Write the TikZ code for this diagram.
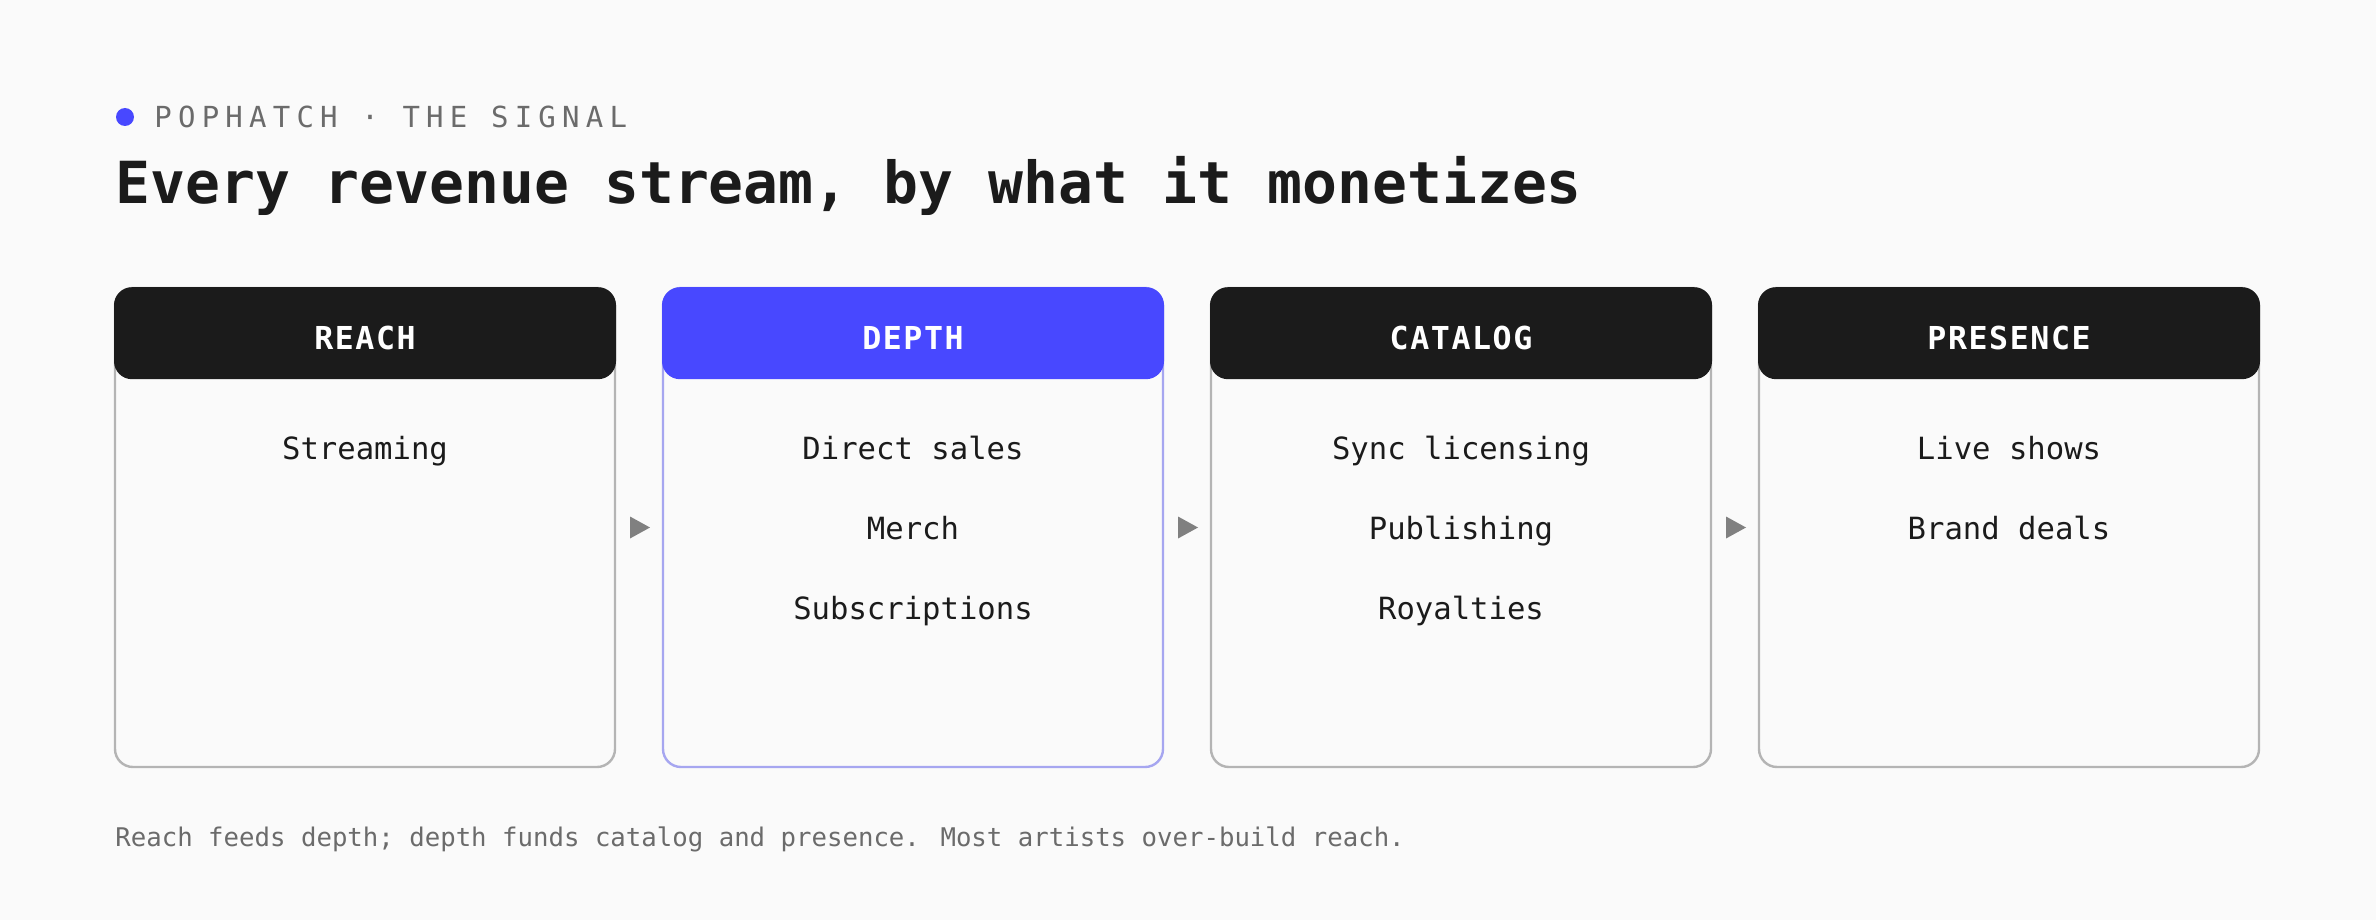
\documentclass[tikz,border=0pt]{standalone}
\usepackage{fontspec}
\setmainfont{DejaVu Sans Mono}
\usetikzlibrary{calc}

\definecolor{paper}{HTML}{FAFAFA}
\definecolor{ink}{HTML}{1B1B1B}
\definecolor{accent}{HTML}{4848FF}
\definecolor{accentline}{HTML}{A6A6F0}
\definecolor{cardline}{HTML}{B4B4B4}
\definecolor{muted}{HTML}{6B6B6B}
\definecolor{tipgray}{HTML}{808080}

\tikzset{
    card/.style={draw=cardline, line width=1.2pt, rounded corners=9pt,
        fill=paper, minimum width=250pt, minimum height=239.5pt, inner sep=0pt},
    head/.style={fill=ink, rounded corners=9pt, anchor=north,
        minimum width=251pt, minimum height=46pt, inner sep=0pt, text=white,
        text height=15.8pt, text depth=0pt,
        font=\bfseries\fontsize{15.8}{18}\selectfont\addfontfeatures{LetterSpace=5}},
    item/.style={anchor=base, inner sep=0pt, text=ink,
        font=\fontsize{15.3}{18}\selectfont},
    tipmark/.style={fill=tipgray}
}

\begin{document}
\begin{tikzpicture}[x=0.5pt, y=-0.5pt]

    \fill[paper] (0,0) rectangle (2376,920);
    \useasboundingbox (0,0) rectangle (2376,920);

    % heading
    \node[circle, fill=accent, minimum size=9pt, inner sep=0pt] (dot) at (125,117){};
    \node[anchor=base west, inner sep=0pt, text=muted,
        font=\fontsize{14.5}{16}\selectfont\addfontfeatures{LetterSpace=21.5}
    ] (kicker) at (154,127){POPHATCH · THE SIGNAL};
    \node[anchor=base west, inner sep=0pt, text=ink,
        font=\bfseries\fontsize{29}{34}\selectfont
    ] (title) at (115,203){Every revenue stream, by what it monetizes};

    % cards
    \node[card] (reach) at (365,527.5){};
    \node[card, draw=accentline] (depth) at (913,527.5){};
    \node[card] (catalog) at (1461,527.5){};
    \node[card] (presence) at (2009,527.5){};

    \node[head] (reachhead) at (reach.north){REACH};
    \node[head, fill=accent] (depthhead) at (depth.north){DEPTH};
    \node[head] (cataloghead) at (catalog.north){CATALOG};
    \node[head] (presencehead) at (presence.north){PRESENCE};

    \node[item] (streaming) at (365,459){Streaming};

    \node[item] (direct) at (913,459){Direct sales};
    \node[item] (merch) at (913,539){Merch};
    \node[item] (subs) at (913,619){Subscriptions};

    \node[item] (sync) at (1461,459){Sync licensing};
    \node[item] (publishing) at (1461,539){Publishing};
    \node[item] (royalties) at (1461,619){Royalties};

    \node[item] (live) at (2009,459){Live shows};
    \node[item] (brand) at (2009,539){Brand deals};

    % arrows between cards
    \fill[tipmark] ($(reach.east)!0.5!(depth.west)$) ++(-9,-11) -- ++(20,11) -- ++(-20,11) -- cycle;
    \fill[tipmark] ($(depth.east)!0.5!(catalog.west)$) ++(-9,-11) -- ++(20,11) -- ++(-20,11) -- cycle;
    \fill[tipmark] ($(catalog.east)!0.5!(presence.west)$) ++(-9,-11) -- ++(20,11) -- ++(-20,11) -- cycle;

    % footnote
    \node[anchor=base west, inner sep=0pt, text=muted,
        font=\fontsize{12.85}{15}\selectfont
    ] (note) at (115,846){Reach feeds depth; depth funds catalog and presence. Most artists over-build reach.};

\end{tikzpicture}
\end{document}
